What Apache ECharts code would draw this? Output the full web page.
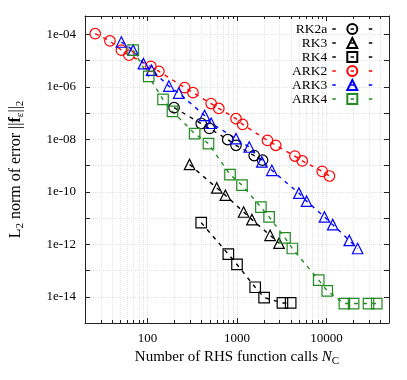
<!DOCTYPE html>
<html>
<head>
<meta charset="utf-8">
<script src="https://cdn.jsdelivr.net/npm/echarts@6/dist/echarts.min.js"></script>
<style>
  html, body { margin: 0; padding: 0; background: #fff; }
  #chart { width: 407px; height: 380px; }
</style>
</head>
<body>
<div id="chart"></div>
<script>
// values (x = RHS calls, y = error norm)
const rk2aX = [198, 398, 492, 787, 975, 1556, 1930];
const rk2aY = [1.6e-7, 4.0e-8, 2.6e-8, 9.8e-9, 5.9e-9, 2.4e-9, 1.6e-9];

const rk3X = [295, 594, 741, 1186, 1468, 2345, 2950];
const rk3Y = [1.1e-9, 1.4e-10, 7.4e-11, 1.7e-11, 8.7e-12, 2.2e-12, 1.1e-12];

const rk4X = [398, 800, 1000, 1597, 2010, 3220, 3980];
const rk4Y = [6.7e-12, 4.2e-13, 1.7e-13, 2.3e-14, 9.3e-15, 5.8e-15, 5.8e-15];

const ark2X = [26, 38, 51, 62, 109, 134, 260, 322, 514, 626, 975, 1156, 2190, 2710, 4440, 5370, 8960, 10800];
const ark2Y = [1.06e-4, 5.6e-5, 2.5e-5, 1.6e-5, 6.0e-6, 3.9e-6, 9.3e-7, 6.0e-7, 2.3e-7, 1.5e-7,
               6.1e-8, 3.7e-8, 9.1e-9, 5.9e-9, 2.3e-9, 1.5e-9, 6.0e-10, 4.0e-10];

const ark3X = [51, 69, 90, 111, 173, 223, 434, 514, 975, 1370, 1896, 2450, 4920, 6000, 9500, 11750, 18000, 22300];
const ark3Y = [5.1e-5, 2.5e-5, 7.6e-6, 4.3e-6, 1.07e-6, 5.8e-7, 8.1e-8, 4.1e-8, 1.06e-8, 5.1e-9,
               1.38e-9, 6.6e-10, 8.9e-11, 4.4e-11, 1.1e-11, 5.6e-12, 1.4e-12, 6.9e-13];

const ark4X = [69, 103, 149, 190, 336, 480, 836, 1137, 1850, 2285, 3440, 4160, 8200, 10200, 15850, 20100, 29500, 36500];
const ark4Y = [2.5e-5, 2.5e-6, 3.3e-7, 1.16e-7, 1.65e-8, 6.9e-9, 4.5e-10, 1.8e-10, 2.6e-11, 1.1e-11,
               1.74e-12, 6.9e-13, 4.3e-14, 1.67e-14, 5.5e-15, 5.5e-15, 5.5e-15, 5.5e-15];

const xMin = 20, xMax = 50000;
const yMin = 1e-15, yMax = 5e-4;

const FONT = '"Liberation Serif", "DejaVu Serif", serif';
const GRID_LINE = { show: true, lineStyle: { color: '#e2e2e2', type: 'dotted', width: 1 } };
const FRAME = { show: true, onZero: false, lineStyle: { color: '#222', width: 1 } };

// minor decade ticks 2..9 (in log10 units for the overlay axes)
let minorLog = [];
for (let e = 1; e <= 4; e++) {
    for (let k = 2; k <= 9; k++) {
        const v = k * Math.pow(10, e);
        if (v > xMin && v < xMax) minorLog.push(Math.log10(v));
    }
}

function pair(xs, ys) {
    return xs.map((x, i) => [x, ys[i]]);
}

function makeSeries(name, xs, ys, symbol, color) {
    return {
        name: name,
        type: 'line',
        xAxisIndex: 0,
        yAxisIndex: 0,
        data: pair(xs, ys),
        symbol: symbol,
        symbolSize: 10.5,
        lineStyle: { color: color, width: 1.4, type: [4, 5] },
        itemStyle: { color: 'transparent', borderColor: color, borderWidth: 1.2 },
        emphasis: { disabled: true },
        z: 3
    };
}

function yLabel(v) {
    const l = Math.log10(v);
    const e = Math.round(l);
    if (Math.abs(l - e) > 1e-6 || e % 2 !== 0) return '';
    const a = Math.abs(e);
    return '1e' + (e < 0 ? '-' : '+') + (a < 10 ? '0' + a : a);
}

function xLabel(v) {
    const l = Math.log10(v);
    if (Math.abs(l - Math.round(l)) > 1e-6) return '';
    return String(Math.round(v));
}

let myChart = echarts.init(document.getElementById('chart'));
let option = {
    animation: false,
    backgroundColor: '#fff',
    grid: { left: 83, right: 18, top: 16, bottom: 57, containLabel: false },
    legend: {
        orient: 'vertical',
        right: 34,
        top: 22,
        padding: 0,
        align: 'right',
        itemWidth: 40,
        itemHeight: 12.5,
        itemGap: 0,
        lineStyle: { type: [3.5, 14.75], width: 1.4 },
        textStyle: { fontFamily: FONT, fontSize: 13.5, lineHeight: 13.3, color: '#000' },
        data: ['RK2a', 'RK3', 'RK4', 'ARK2', 'ARK3', 'ARK4']
    },
    xAxis: [
        {
            type: 'log', logBase: 10, position: 'bottom', min: xMin, max: xMax,
            axisLine: FRAME,
            axisTick: { inside: true, length: 5, lineStyle: { color: '#222' } },
            axisLabel: { formatter: xLabel, fontFamily: FONT, fontSize: 13, color: '#000', margin: 9 },
            splitLine: GRID_LINE,
            name: '{n|Number of RHS function calls }{i|N}{s|C}',
            nameLocation: 'middle',
            nameGap: 21,
            nameTextStyle: {
                fontFamily: FONT, fontSize: 15, color: '#000',
                rich: {
                    n: { fontFamily: FONT, fontSize: 15, color: '#000', lineHeight: 19 },
                    i: { fontFamily: FONT, fontSize: 15, color: '#000', fontStyle: 'italic', lineHeight: 19 },
                    s: { fontFamily: FONT, fontSize: 11, color: '#000', lineHeight: 11, verticalAlign: 'bottom' }
                }
            }
        },
        {
            type: 'log', logBase: 10, position: 'top', min: xMin, max: xMax,
            axisLine: FRAME,
            axisTick: { inside: true, length: 5, lineStyle: { color: '#222' } },
            axisLabel: { show: false },
            splitLine: { show: false }
        },
        {
            type: 'value', position: 'bottom', min: Math.log10(xMin), max: Math.log10(xMax),
            axisLine: { show: false, onZero: false },
            axisTick: { inside: true, length: 3, customValues: minorLog, lineStyle: { color: '#222' } },
            axisLabel: { show: false },
            splitLine: GRID_LINE
        },
        {
            type: 'value', position: 'top', min: Math.log10(xMin), max: Math.log10(xMax),
            axisLine: { show: false, onZero: false },
            axisTick: { inside: true, length: 3, customValues: minorLog, lineStyle: { color: '#222' } },
            axisLabel: { show: false },
            splitLine: { show: false }
        }
    ],
    yAxis: [
        {
            type: 'log', logBase: 10, position: 'left', min: yMin, max: yMax, interval: 1,
            axisLine: FRAME,
            axisTick: { inside: true, length: 5, lineStyle: { color: '#222' } },
            axisLabel: { formatter: yLabel, fontFamily: FONT, fontSize: 13, color: '#000', margin: 9 },
            splitLine: GRID_LINE,
            name: '{n|L}{s|2}{n| norm of error ||}{b|f}{s|ε}{n|||}{s|2}',
            nameLocation: 'middle',
            nameRotate: 90,
            nameGap: 59,
            nameTextStyle: {
                fontFamily: FONT, fontSize: 16, color: '#000',
                rich: {
                    n: { fontFamily: FONT, fontSize: 16, color: '#000', lineHeight: 20 },
                    b: { fontFamily: FONT, fontSize: 16, color: '#000', fontWeight: 'bold', lineHeight: 20 },
                    s: { fontFamily: FONT, fontSize: 11, color: '#000', lineHeight: 11, verticalAlign: 'bottom' }
                }
            }
        },
        {
            type: 'log', logBase: 10, position: 'right', min: yMin, max: yMax, interval: 1,
            axisLine: FRAME,
            axisTick: { inside: true, length: 5, lineStyle: { color: '#222' } },
            axisLabel: { show: false },
            splitLine: { show: false }
        }
    ],
    series: [
        makeSeries('RK2a', rk2aX, rk2aY, 'circle', '#000000'),
        makeSeries('RK3', rk3X, rk3Y, 'triangle', '#000000'),
        makeSeries('RK4', rk4X, rk4Y, 'rect', '#000000'),
        makeSeries('ARK2', ark2X, ark2Y, 'circle', '#ff0000'),
        makeSeries('ARK3', ark3X, ark3Y, 'triangle', '#0000ff'),
        makeSeries('ARK4', ark4X, ark4Y, 'rect', '#228b22')
    ]
};

myChart.setOption(option);
</script>
</body>
</html>
